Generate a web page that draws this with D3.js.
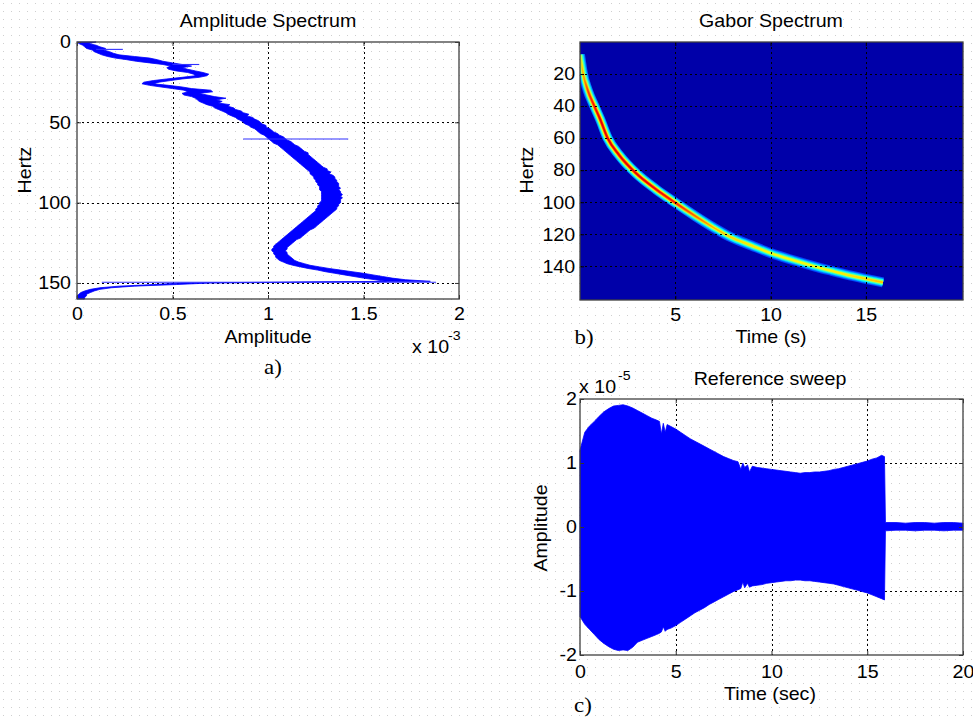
<!DOCTYPE html>
<html>
<head>
<meta charset="utf-8">
<script src="https://cdn.jsdelivr.net/npm/d3@7"></script>
<style>
  body { margin: 0; background: #fff; }
  svg { display: block; }
</style>
</head>
<body>
<svg id="fig" width="973" height="721"></svg>
<script>
// ---------- a) Amplitude spectrum (amplitude in units of 1e-3, frequency in Hz) ----------
const specFreq = [
  0,1,2,3,4,5,6,7,8,9,10,11,12,13,14,15,16,17,18,19,
  20,21,22,23,24,25,26,27,28,29,30,31,32,33,34,35,36,37,38,39,
  40,41,42,43,44,45,46,47,48,49,50,51,52,53,54,55,56,57,58,59,
  60,61,62,63,64,65,66,67,68,69,70,71,72,73,74,75,76,77,78,79,
  80,81,82,83,84,85,86,87,88,89,90,91,92,93,94,95,96,97,98,99,
  100,101,102,103,104,105,106,107,108,109,110,111,112,113,114,115,116,117,118,119,
  120,121,122,123,124,125,126,127,128,129,130,131,132,133,134,135,136,137,138,139,
  140,141,142,143,144,145,146,147,148,149,150,151,152,153,154,155,156,157,158,159,160
];
const specLo = [
  0.00,0.01,0.03,0.04,0.05,0.08,0.09,0.11,0.13,0.16,
  0.20,0.26,0.31,0.38,0.45,0.49,0.47,0.48,0.52,0.58,
  0.61,0.62,0.55,0.47,0.40,0.35,0.34,0.38,0.44,0.50,
  0.56,0.58,0.55,0.56,0.60,0.62,0.63,0.64,0.66,0.68,
  0.71,0.72,0.74,0.76,0.78,0.79,0.81,0.83,0.84,0.86,
  0.87,0.88,0.90,0.91,0.93,0.94,0.95,0.96,0.98,0.99,
  1.00,1.01,1.02,1.03,1.05,1.06,1.07,1.08,1.09,1.10,
  1.11,1.12,1.13,1.14,1.15,1.16,1.17,1.18,1.19,1.20,
  1.21,1.22,1.22,1.23,1.24,1.24,1.25,1.25,1.26,1.26,
  1.27,1.27,1.27,1.28,1.28,1.28,1.28,1.28,1.28,1.28,
  1.27,1.27,1.26,1.26,1.25,1.25,1.24,1.23,1.22,1.21,
  1.20,1.19,1.18,1.17,1.16,1.15,1.14,1.13,1.12,1.11,
  1.10,1.09,1.08,1.07,1.06,1.05,1.04,1.03,1.03,1.02,
  1.02,1.03,1.03,1.04,1.04,1.05,1.06,1.08,1.10,1.13,
  1.17,1.21,1.26,1.30,1.35,1.40,1.45,1.50,1.56,1.62,
  0.55,0.40,0.22,0.12,0.07,0.04,0.02,0.01,0.00,0.00,0.00
];
const specHi = [
  0.10,0.06,0.10,0.12,0.15,0.14,0.17,0.19,0.22,0.30,
  0.38,0.42,0.45,0.50,0.55,0.60,0.55,0.58,0.62,0.66,
  0.69,0.68,0.64,0.55,0.49,0.43,0.40,0.48,0.55,0.60,
  0.70,0.71,0.64,0.68,0.72,0.78,0.73,0.76,0.74,0.80,
  0.79,0.82,0.83,0.86,0.87,0.90,0.89,0.92,0.93,0.95,
  0.96,0.97,0.99,0.99,1.01,1.02,1.03,1.05,1.06,1.08,
  1.09,1.10,1.12,1.13,1.14,1.16,1.17,1.18,1.19,1.21,
  1.21,1.22,1.23,1.24,1.25,1.26,1.27,1.28,1.29,1.31,
  1.31,1.33,1.32,1.34,1.35,1.35,1.36,1.36,1.37,1.37,
  1.37,1.38,1.37,1.38,1.38,1.39,1.38,1.39,1.38,1.38,
  1.38,1.37,1.37,1.36,1.36,1.35,1.34,1.33,1.32,1.31,
  1.30,1.29,1.28,1.27,1.26,1.25,1.24,1.22,1.21,1.20,
  1.19,1.18,1.17,1.15,1.14,1.13,1.12,1.11,1.10,1.10,
  1.09,1.10,1.10,1.11,1.12,1.13,1.14,1.16,1.19,1.22,
  1.27,1.32,1.38,1.44,1.50,1.55,1.60,1.65,1.72,1.85,
  0.70,0.52,0.30,0.18,0.12,0.09,0.07,0.05,0.05,0.04,0.04
];
// isolated narrow spectral lines
const spikeFreq = [4.6, 14.0, 60.4, 149.6];
const spikeFrom = [0.10, 0.50, 0.87, 0.13];
const spikeTo   = [0.24, 0.64, 1.42, 1.88];
const specAmpTicks  = [0, 0.5, 1, 1.5, 2];
const specFreqTicks = [0, 50, 100, 150];

// ---------- b) Gabor spectrum ridge (time s, frequency Hz, relative peak level) ----------
const ridgeT    = [0, 0.15, 0.4, 0.75, 1.05, 1.45, 2.05, 2.95, 4.0, 4.9, 6.1, 7.0, 7.9, 9.0, 10.0, 11.2, 12.3, 13.2, 14.0, 15.0, 15.9];
const ridgeF    = [8, 19.6, 30, 40, 48, 60, 70.5, 82, 92, 99.5, 109, 115.7, 121.7, 127, 131.7, 136.2, 140, 142.8, 145.2, 147.8, 150];
const ridgePeak = [0.62, 0.78, 0.9, 0.96, 1.0, 1.0, 1.0, 1.0, 0.98, 0.95, 0.86, 0.78, 0.74, 0.72, 0.7, 0.7, 0.7, 0.71, 0.72, 0.74, 0.76];
const gaborTimeTicks = [5, 10, 15];
const gaborFreqTicks = [20, 40, 60, 80, 100, 120, 140];

// ---------- c) Reference sweep envelope (time s, amplitude in units of 1e-5) ----------
const sweepT = [
  0, 0.25, 0.5, 0.75, 1, 1.25, 1.5, 1.75,
  2, 2.25, 2.5, 2.75, 3, 3.25, 3.5, 3.75,
  4, 4.15, 4.25, 4.35, 4.45, 4.55, 4.75, 5,
  5.25, 5.5, 5.75, 6, 6.25, 6.5, 6.75, 7,
  7.25, 7.5, 7.75, 8, 8.25, 8.4, 8.5, 8.6,
  8.75, 8.85, 9, 9.25, 9.5, 9.75, 10, 10.25,
  10.5, 10.75, 11, 11.25, 11.5, 11.75, 12, 12.25,
  12.5, 12.75, 13, 13.25, 13.5, 13.75, 14, 14.25,
  14.5, 14.75, 15, 15.25, 15.5, 15.75, 15.9, 15.95,
  16.5, 17, 17.5, 18, 18.5, 19, 19.5, 20
];
const sweepHi = [
  1.20, 1.48, 1.58, 1.65, 1.73, 1.80, 1.85, 1.89,
  1.90, 1.91, 1.89, 1.86, 1.82, 1.78, 1.74, 1.70,
  1.67, 1.65, 1.45, 1.62, 1.48, 1.60, 1.57, 1.53,
  1.48, 1.43, 1.38, 1.34, 1.30, 1.26, 1.22, 1.18,
  1.14, 1.10, 1.07, 1.04, 1.02, 0.90, 1.00, 0.93,
  0.97, 0.86, 0.95, 0.93, 0.92, 0.91, 0.90, 0.89,
  0.88, 0.87, 0.86, 0.85, 0.84, 0.85, 0.85, 0.86,
  0.86, 0.87, 0.88, 0.90, 0.91, 0.93, 0.95, 0.97,
  0.99, 1.01, 1.03, 1.06, 1.08, 1.12, 1.10, 0.07,
  0.07, 0.06, 0.07, 0.07, 0.06, 0.07, 0.07, 0.06
];
const sweepLo = [
  -1.40, -1.52, -1.60, -1.68, -1.76, -1.82, -1.87, -1.91,
  -1.93, -1.92, -1.93, -1.88, -1.80, -1.77, -1.74, -1.71,
  -1.68, -1.66, -1.64, -1.56, -1.63, -1.60, -1.58, -1.54,
  -1.49, -1.44, -1.39, -1.34, -1.30, -1.26, -1.21, -1.17,
  -1.13, -1.09, -1.05, -1.01, -0.98, -0.96, -0.86, -0.95,
  -0.88, -0.94, -0.92, -0.91, -0.90, -0.88, -0.87, -0.86,
  -0.85, -0.84, -0.84, -0.83, -0.83, -0.84, -0.84, -0.85,
  -0.86, -0.87, -0.88, -0.89, -0.91, -0.93, -0.95, -0.97,
  -0.99, -1.01, -1.03, -1.06, -1.09, -1.12, -1.14, -0.06,
  -0.05, -0.05, -0.06, -0.05, -0.05, -0.06, -0.05, -0.05
];
const sweepTimeTicks = [0, 5, 10, 15, 20];
const sweepAmpTicks  = [-2, -1, 0, 1, 2];

// ---------- drawing ----------
const SANS = '"Liberation Sans", Arial, Helvetica, sans-serif';
const SERIF = '"Liberation Serif", "Times New Roman", serif';
const FS = 18;          // label font size
const STRETCH = 1.09;   // slightly wide lettering
const BLUE = "#0000ff";

const svg = d3.select("#fig");
const defs = svg.append("defs");

// dotted paper background
const pat = defs.append("pattern").attr("id", "dots")
  .attr("width", 8).attr("height", 8).attr("patternUnits", "userSpaceOnUse");
pat.append("rect").attr("x", 3).attr("y", 3).attr("width", 1).attr("height", 1).attr("fill", "#cfcfcf");
svg.append("rect").attr("width", 973).attr("height", 721).attr("fill", "#fff");
svg.append("rect").attr("width", 973).attr("height", 721).attr("fill", "url(#dots)");

defs.append("filter").attr("id", "soft").attr("x", "-5%").attr("y", "-5%").attr("width", "110%").attr("height", "110%")
  .append("feGaussianBlur").attr("stdDeviation", 0.7);

function label(x, y, str, o = {}) {
  return svg.append("text")
    .attr("transform", `translate(${x},${y})` + (o.rotate ? ` rotate(${o.rotate})` : "") + ` scale(${STRETCH},1)`)
    .attr("text-anchor", o.anchor || "middle")
    .attr("font-family", o.family || SANS)
    .attr("font-size", o.size || FS)
    .attr("fill", "#000")
    .text(str);
}

function grid(g, x, y, xv, yv) {
  const [xa, xb] = x.range();
  const ys = y.range(), ya = Math.min(...ys), yb = Math.max(...ys);
  const gg = g.append("g").attr("stroke", "#000").attr("stroke-width", 1).attr("stroke-dasharray", "2,3");
  gg.selectAll("line.v").data(xv).join("line").attr("class", "v")
    .attr("x1", d => Math.round(x(d)) + 0.5).attr("x2", d => Math.round(x(d)) + 0.5)
    .attr("y1", ya).attr("y2", yb);
  gg.selectAll("line.h").data(yv).join("line").attr("class", "h")
    .attr("y1", d => Math.round(y(d)) + 0.5).attr("y2", d => Math.round(y(d)) + 0.5)
    .attr("x1", xa).attr("x2", xb);
}

function axes(g, x, y, xTicks, yTicks, o) {
  const [xa, xb] = x.range();
  const ys = y.range(), ya = Math.min(...ys), yb = Math.max(...ys);
  const fmt = d => String(d);
  const b = g.append("g").attr("transform", `translate(0,${yb})`)
    .call(d3.axisBottom(x).tickValues(xTicks).tickSizeInner(-4).tickSizeOuter(0).tickPadding(o.padX).tickFormat(fmt));
  const l = g.append("g").attr("transform", `translate(${xa},0)`)
    .call(d3.axisLeft(y).tickValues(yTicks).tickSizeInner(-4).tickSizeOuter(0).tickPadding(o.padY).tickFormat(fmt));
  const t = g.append("g").attr("transform", `translate(0,${ya})`)
    .call(d3.axisTop(x).tickValues(xTicks).tickSizeInner(-4).tickSizeOuter(0).tickFormat(""));
  const r = g.append("g").attr("transform", `translate(${xb},0)`)
    .call(d3.axisRight(y).tickValues(yTicks).tickSizeInner(-4).tickSizeOuter(0).tickFormat(""));
  [b, l, t, r].forEach(a => {
    a.select(".domain").remove();
    a.selectAll("line").attr("stroke", o.tickColor || "#333");
    a.selectAll("text").attr("font-family", SANS).attr("font-size", FS).attr("fill", "#000")
      .attr("transform", `scale(${STRETCH},1)`);
  });
  g.append("rect").attr("x", xa).attr("y", ya).attr("width", xb - xa).attr("height", yb - ya)
    .attr("fill", "none").attr("stroke", "#404040").attr("stroke-width", 1.3);
}

// ----- panel a -----
{
  const g = svg.append("g");
  const x = d3.scaleLinear([0, 2], [77, 459]);
  const y = d3.scaleLinear([0, 160], [42, 299]);
  grid(g, x, y, [0.5, 1, 1.5], [50, 100, 150]);

  const rows = specFreq.map((f, i) => ({ f, lo: specLo[i], hi: specHi[i] }));
  const band = d3.area().y(d => y(d.f)).x0(d => x(d.lo)).x1(d => x(d.hi));
  g.append("path").attr("d", band(rows)).attr("fill", BLUE).attr("stroke", BLUE).attr("stroke-width", 0.8);

  g.selectAll("line.spike").data(spikeFreq).join("line").attr("class", "spike")
    .attr("y1", d => y(d)).attr("y2", d => y(d))
    .attr("x1", (d, i) => x(spikeFrom[i])).attr("x2", (d, i) => x(spikeTo[i]))
    .attr("stroke", "#3030ff").attr("stroke-width", 1.1);

  axes(g, x, y, specAmpTicks, specFreqTicks, { padX: 8, padY: 5.5 });

  label(268, 27, "Amplitude Spectrum");
  label(268, 343, "Amplitude");
  label(31, 170, "Hertz", { rotate: -90 });
  label(412, 353, "x 10", { anchor: "start" });
  label(448, 340, "-3", { anchor: "start", size: 13 });
  label(273, 374, "a)", { family: SERIF, size: 21 });
}

// ----- panel b -----
{
  const g = svg.append("g");
  const x = d3.scaleLinear([0, 20.1], [580, 963]);
  const y = d3.scaleLinear([0, 161], [42, 300]);
  const jet = d3.scaleLinear()
    .domain([0, 0.125, 0.375, 0.625, 0.875, 1])
    .range(["#000080", "#0000ff", "#00ffff", "#ffff00", "#ff0000", "#800000"])
    .clamp(true);

  defs.append("clipPath").attr("id", "clipB").append("rect")
    .attr("x", 580).attr("y", 42).attr("width", 383).attr("height", 258);

  g.append("rect").attr("x", 580).attr("y", 42).attr("width", 383).attr("height", 258).attr("fill", jet(0.04));

  // the ridge is drawn as nested strokes; each stroke's colour follows the
  // ridge peak level along time through a horizontal gradient
  const ridge = g.append("g").attr("clip-path", "url(#clipB)").append("g").attr("filter", "url(#soft)");
  const layers = [
    { w: 10, k: 0.27 }, { w: 8, k: 0.37 }, { w: 6.4, k: 0.49 },
    { w: 4.6, k: 0.63 }, { w: 3, k: 0.8 }, { w: 1.6, k: 0.9 }
  ];
  const xStart = x(ridgeT[0]), xEnd = x(ridgeT[ridgeT.length - 1]);
  const path = d3.line().x((d, i) => x(ridgeT[i])).y((d, i) => y(ridgeF[i])).curve(d3.curveMonotoneX);
  layers.forEach((L, li) => {
    const grad = defs.append("linearGradient").attr("id", "ridge" + li)
      .attr("gradientUnits", "userSpaceOnUse")
      .attr("x1", xStart).attr("x2", xEnd).attr("y1", 0).attr("y2", 0);
    ridgeT.forEach((t, i) => {
      grad.append("stop").attr("offset", (x(t) - xStart) / (xEnd - xStart)).attr("stop-color", jet(L.k * ridgePeak[i]));
    });
    ridge.append("path").attr("d", path(ridgeT))
      .attr("fill", "none").attr("stroke", `url(#ridge${li})`)
      .attr("stroke-width", L.w).attr("stroke-linecap", "butt");
  });

  grid(g, x, y, gaborTimeTicks, gaborFreqTicks);
  axes(g, x, y, gaborTimeTicks, gaborFreqTicks, { padX: 8, padY: 4.5, tickColor: "#000" });

  label(771, 27, "Gabor Spectrum");
  label(771, 343, "Time (s)");
  label(533, 170, "Hertz", { rotate: -90 });
  label(584, 344, "b)", { family: SERIF, size: 21 });
}

// ----- panel c -----
{
  const g = svg.append("g");
  const x = d3.scaleLinear([0, 20], [580, 963]);
  const y = d3.scaleLinear([-2, 2], [655, 399]);
  grid(g, x, y, [5, 10, 15], [-1, 0, 1]);

  const rows = sweepT.map((t, i) => ({ t, lo: sweepLo[i], hi: sweepHi[i] }));
  const env = d3.area().x(d => x(d.t)).y0(d => y(d.lo)).y1(d => y(d.hi));
  g.append("path").attr("d", env(rows)).attr("fill", BLUE).attr("stroke", BLUE).attr("stroke-width", 0.8);

  axes(g, x, y, sweepTimeTicks, sweepAmpTicks, { padX: 10, padY: 2.8 });

  label(770, 385, "Reference sweep");
  label(770, 700, "Time (sec)");
  label(547, 528, "Amplitude", { rotate: -90 });
  label(579, 393, "x 10", { anchor: "start" });
  label(618, 380, "-5", { anchor: "start", size: 13 });
  label(583, 712, "c)", { family: SERIF, size: 21 });
}
</script>
</body>
</html>
